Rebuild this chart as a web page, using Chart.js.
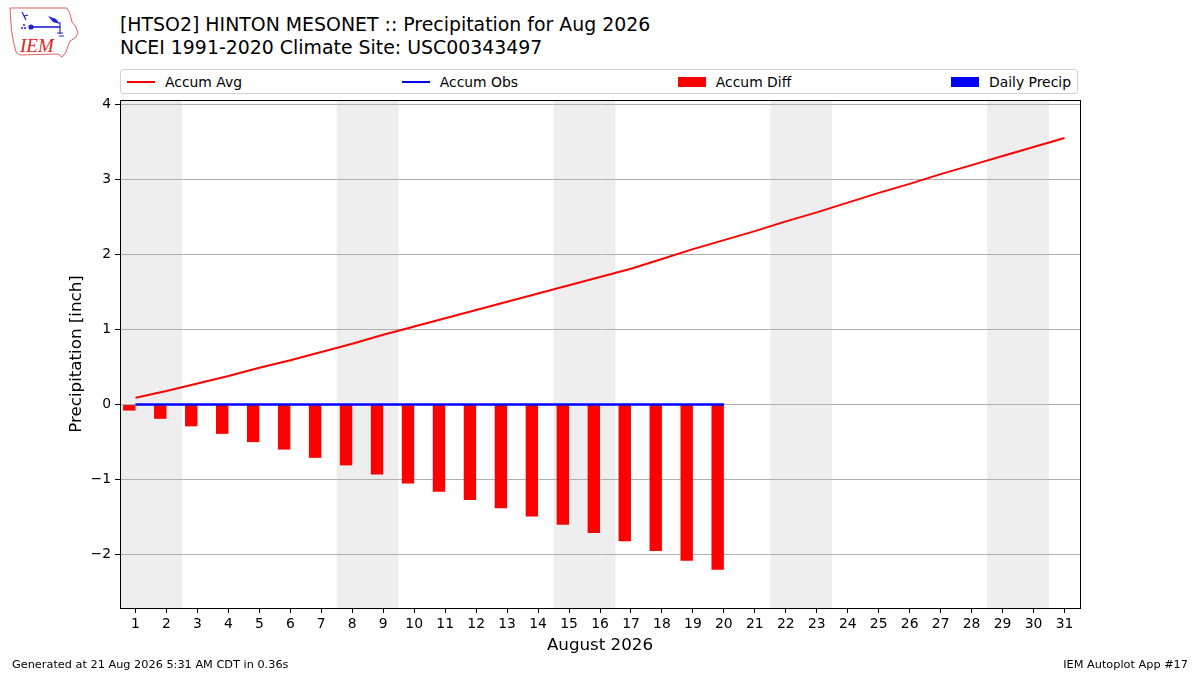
<!DOCTYPE html>
<html>
<head>
<meta charset="utf-8">
<script src="https://cdn.jsdelivr.net/npm/chart.js@4/dist/chart.umd.min.js"></script>
<style>
  html, body { margin: 0; padding: 0; background: #fff; }
  body { width: 1200px; height: 675px; position: relative; overflow: hidden; font-family: 'DejaVu Sans', sans-serif; color: #000; }
  #chart-wrap { position: absolute; left: 0; top: 0; width: 1200px; height: 675px; }
  .title { position: absolute; left: 120px; top: 13px; font-size: 18.9px; line-height: 23px; white-space: nowrap; }
  #legend { position: absolute; left: 120px; top: 69px; width: 958px; height: 25px; border: 1px solid #d0d0d0; border-radius: 3px;
            display: flex; justify-content: space-between; align-items: center; padding: 0 6px 0 6px; box-sizing: border-box; background: #fff; }
  .item { display: flex; align-items: center; font-size: 13.9px; white-space: nowrap; }
  .swatch { width: 28px; margin-right: 10px; }
  .footer { position: absolute; top: 658px; font-size: 11.3px; white-space: nowrap; }
  #logo { position: absolute; left: 0; top: 0; }
</style>
</head>
<body>
<svg id="logo" width="90" height="62" viewBox="0 0 90 62">
  <path d="M10,8 L67,8 L70,14 L72,22 L76,27 L78,33 L75,38 L70,41 L68,46 L66,52 L62,57 L58,54 L20,55 L16,52 L14,44 L12,34 L11,24 Z"
        fill="#fff" stroke="#e06060" stroke-width="1"/>
  <path d="M22,12 L24,16 L28,15 M24,16 L26,20" stroke="#2222cc" stroke-width="1.2" fill="none"/>
  <circle cx="31" cy="27" r="2.6" fill="#2222cc"/>
  <line x1="31" y1="27" x2="60" y2="27" stroke="#2222cc" stroke-width="1.6"/>
  <path d="M48,16 L56,19 L60,24 L53,22 Z" fill="#2222cc"/>
  <line x1="60" y1="22" x2="60" y2="34" stroke="#2222cc" stroke-width="1.2"/>
  <path d="M57,33 L63,33 M59,36 L64,36" stroke="#2222cc" stroke-width="1"/>
  <circle cx="24" cy="25" r="1" fill="#2222cc"/><circle cx="22" cy="28" r="1" fill="#2222cc"/><circle cx="25" cy="28" r="1" fill="#2222cc"/>
  <text x="20" y="52" font-family="'Liberation Serif', serif" font-style="italic" font-size="19" fill="#dd2222">IEM</text>
</svg>

<div class="title">[HTSO2] HINTON MESONET :: Precipitation for Aug 2026<br>NCEI 1991-2020 Climate Site: USC00343497</div>
<div id="legend"></div>
<div id="chart-wrap"><canvas id="chart" width="1200" height="675"></canvas></div>
<div class="footer" style="left:12px;">Generated at 21 Aug 2026 5:31 AM CDT in 0.36s</div>
<div class="footer" style="right:12px;">IEM Autoplot App #17</div>

<script>
// days of August 2026
const days = [1, 2, 3, 4, 5, 6, 7, 8, 9, 10, 11, 12, 13, 14, 15, 16, 17, 18, 19, 20,
              21, 22, 23, 24, 25, 26, 27, 28, 29, 30, 31];
// climatology accumulated average (inch)
const accumAvg = [0.09, 0.18, 0.28, 0.38, 0.49, 0.59, 0.70, 0.81, 0.93, 1.04, 1.15, 1.26,
                  1.37, 1.48, 1.59, 1.70, 1.81, 1.94, 2.07, 2.19, 2.31, 2.44, 2.56, 2.69,
                  2.82, 2.94, 3.07, 3.19, 3.31, 3.43, 3.55];
// observed days so far
const obsDays = [1, 2, 3, 4, 5, 6, 7, 8, 9, 10, 11, 12, 13, 14, 15, 16, 17, 18, 19, 20];
const accumObs = [0, 0, 0, 0, 0, 0, 0, 0, 0, 0, 0, 0, 0, 0, 0, 0, 0, 0, 0, 0];
const accumDiff = [-0.08, -0.19, -0.29, -0.39, -0.50, -0.60, -0.71, -0.81, -0.93, -1.05,
                   -1.16, -1.27, -1.38, -1.49, -1.60, -1.71, -1.82, -1.95, -2.08, -2.20];
const dailyPrecip = [0, 0, 0, 0, 0, 0, 0, 0, 0, 0, 0, 0, 0, 0, 0, 0, 0, 0, 0, 0];
// saturdays, each shaded with the following sunday
const weekendStarts = [1, 8, 15, 22, 29];
const yTicks = [-2, -1, 0, 1, 2, 3, 4];

const FONT = "'DejaVu Sans', sans-serif";

function pts(xs, ys) {
  return xs.map((x, i) => ({ x: x, y: ys[i] }));
}

// grey weekend bands, drawn before the grid
const weekendPlugin = {
  id: 'weekends',
  beforeDraw(chart) {
    const { ctx, chartArea, scales } = chart;
    ctx.save();
    ctx.fillStyle = '#eeeeee';
    weekendStarts.forEach(d => {
      const x0 = Math.max(scales.x.getPixelForValue(d - 0.5), chartArea.left);
      const x1 = Math.min(scales.x.getPixelForValue(d + 1.5), chartArea.right);
      ctx.fillRect(x0, chartArea.top, x1 - x0, chartArea.bottom - chartArea.top);
    });
    ctx.restore();
  }
};

// full box round the plot area
const framePlugin = {
  id: 'frame',
  afterDraw(chart) {
    const { ctx, chartArea } = chart;
    ctx.save();
    ctx.strokeStyle = '#000';
    ctx.lineWidth = 1;
    ctx.strokeRect(Math.round(chartArea.left) + 0.5, Math.round(chartArea.top) + 0.5,
      Math.round(chartArea.right - chartArea.left), Math.round(chartArea.bottom - chartArea.top));
    ctx.restore();
  }
};

const datasets = [
  {
    type: 'line', label: 'Accum Obs', data: pts(obsDays, accumObs),
    borderColor: '#0000ff', backgroundColor: '#0000ff', borderWidth: 2.5,
    pointRadius: 0, order: 0
  },
  {
    type: 'line', label: 'Accum Avg', data: pts(days, accumAvg),
    borderColor: '#ff0000', backgroundColor: '#ff0000', borderWidth: 2,
    pointRadius: 0, order: 1
  },
  {
    type: 'bar', label: 'Accum Diff', data: pts(obsDays, accumDiff),
    backgroundColor: '#ff0000', borderWidth: 0, order: 2,
    categoryPercentage: 0.8, barPercentage: 1.0
  },
  {
    type: 'bar', label: 'Daily Precip', data: pts(obsDays, dailyPrecip),
    backgroundColor: '#0000ff', borderWidth: 0, order: 3,
    categoryPercentage: 0.8, barPercentage: 1.0
  }
];

// legend in matplotlib order
const legendOrder = ['Accum Avg', 'Accum Obs', 'Accum Diff', 'Daily Precip'];
const legendEl = document.getElementById('legend');
legendOrder.forEach(name => {
  const ds = datasets.find(d => d.label === name);
  const item = document.createElement('div');
  item.className = 'item';
  const sw = document.createElement('div');
  sw.className = 'swatch';
  if (ds.type === 'line') {
    sw.style.height = '2px';
    sw.style.background = ds.borderColor;
  } else {
    sw.style.height = '10px';
    sw.style.background = ds.backgroundColor;
  }
  const txt = document.createElement('span');
  txt.textContent = name;
  item.appendChild(sw);
  item.appendChild(txt);
  legendEl.appendChild(item);
});

new Chart(document.getElementById('chart'), {
  type: 'line',
  data: { datasets: datasets },
  options: {
    responsive: false,
    animation: false,
    layout: { padding: { top: 100, right: 120, left: 0, bottom: 0 } },
    plugins: {
      legend: { display: false },
      tooltip: { enabled: false }
    },
    scales: {
      x: {
        type: 'linear',
        min: 0.5,
        max: 31.5,
        offset: false,
        afterBuildTicks(scale) {
          scale.ticks = days.map(v => ({ value: v }));
        },
        afterFit(scale) { scale.height = 67; },
        ticks: {
          color: '#000',
          font: { family: FONT, size: 13.9 },
          padding: 3,
          maxRotation: 0,
          autoSkip: false,
          callback: v => String(v)
        },
        grid: {
          offset: false,
          drawOnChartArea: false,
          drawTicks: true,
          tickLength: 5,
          tickColor: '#000'
        },
        border: { color: '#000', width: 1 },
        title: {
          display: true,
          text: 'August 2026',
          color: '#000',
          font: { family: FONT, size: 16.7 },
          padding: { top: 0, bottom: 19 }
        }
      },
      y: {
        type: 'linear',
        min: -2.71,
        max: 4.057,
        afterBuildTicks(scale) {
          scale.ticks = yTicks.map(v => ({ value: v }));
        },
        afterFit(scale) { scale.width = 120; },
        ticks: {
          color: '#000',
          font: { family: FONT, size: 13.9 },
          padding: 4,
          callback: v => (v < 0 ? '\u2212' + Math.abs(v) : String(v))
        },
        grid: {
          color: '#b0b0b0',
          lineWidth: 1,
          drawTicks: true,
          tickLength: 5,
          tickColor: '#000'
        },
        border: { color: '#000', width: 1 },
        title: {
          display: true,
          text: 'Precipitation [inch]',
          color: '#000',
          font: { family: FONT, size: 16.7 },
          padding: { top: 67, bottom: 0 }
        }
      }
    }
  },
  plugins: [weekendPlugin, framePlugin]
});
</script>
</body>
</html>
